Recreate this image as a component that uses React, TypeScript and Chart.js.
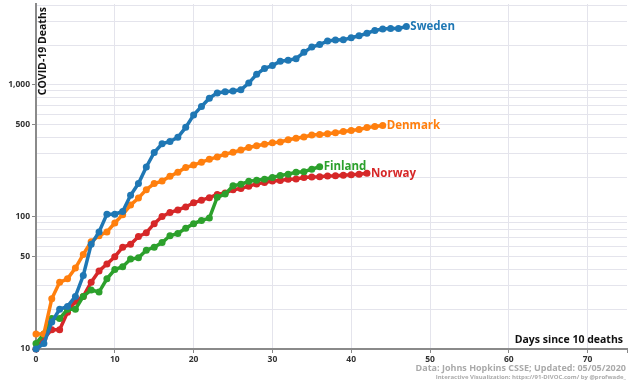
import React, { useEffect, useRef } from "react";
import { Chart, registerables } from "chart.js";

Chart.register(...registerables);

const days: number[] = Array.from({ length: 48 }, (_, i) => i);

const sweden = [10, 11, 16, 20, 21, 25, 36, 62, 77, 105, 105, 110, 146, 179, 239, 308, 358, 373, 401, 477, 591, 687, 793, 870, 887, 899, 919, 1033, 1203, 1333, 1400, 1511, 1540, 1580, 1765, 1937, 2021, 2152, 2192, 2194, 2274, 2355, 2462, 2586, 2653, 2669, 2679, 2769];
const denmark = [13, 13, 24, 32, 34, 41, 52, 65, 72, 77, 90, 104, 123, 139, 161, 179, 187, 203, 218, 237, 247, 260, 273, 285, 299, 309, 321, 336, 346, 355, 364, 370, 384, 394, 403, 418, 422, 427, 434, 443, 452, 460, 475, 484, 493];
const finland = [11, 13, 17, 17, 20, 20, 25, 28, 27, 34, 40, 42, 48, 49, 56, 59, 64, 72, 75, 82, 89, 94, 98, 141, 149, 172, 177, 186, 190, 193, 199, 206, 211, 218, 220, 230, 240];
const norway = [10, 12, 14, 14, 19, 23, 25, 32, 39, 44, 50, 59, 62, 71, 76, 89, 101, 108, 113, 119, 128, 134, 140, 148, 152, 161, 164, 171, 178, 182, 187, 189, 193, 194, 199, 201, 202, 204, 205, 207, 209, 211, 214];

const countries = ["Sweden", "Denmark", "Finland", "Norway"];
const colors = ["#1f77b4", "#ff7f0e", "#2ca02c", "#d62728"];
const seriesList = [sweden, denmark, finland, norway];

const yGridValues = [10, 20, 30, 40, 50, 60, 70, 80, 90, 100, 200, 300, 400, 500, 600, 700, 800, 900, 1000, 2000, 3000, 4000];
const yLabelValues = [10, 50, 100, 500, 1000];
const xTickStep = 10;
const xMax = 75;
const yMin = 10;
const yMax = 4100;

const xTitle = "Days since 10 deaths";
const yTitle = "COVID-19 Deaths";
const source = "Data: Johns Hopkins CSSE; Updated: 05/05/2020";
const credit = "Interactive Visualization: https://91-DIVOC.com/ by @profwade_";

const FONT = "'Open Sans', sans-serif";

const labelPlugin = {
  id: "endLabels",
  afterDatasetsDraw(chart: any) {
    const ctx = chart.ctx;
    ctx.save();
    chart.data.datasets.forEach((ds: any, i: number) => {
      const meta = chart.getDatasetMeta(i);
      const pt = meta.data[meta.data.length - 1];
      if (!pt) return;
      ctx.font = `bold 11.5px ${FONT}`;
      ctx.fillStyle = ds.borderColor;
      ctx.textAlign = "left";
      ctx.textBaseline = "middle";
      ctx.fillText(ds.label, pt.x + 4, pt.y);
    });
    ctx.restore();
  },
  afterDraw(chart: any) {
    const ctx = chart.ctx;
    const a = chart.chartArea;
    ctx.save();
    ctx.fillStyle = "#111";
    ctx.font = `bold 10.5px ${FONT}`;
    ctx.textAlign = "right";
    ctx.textBaseline = "alphabetic";
    ctx.fillText(xTitle, a.right - 4, a.bottom - 6);
    ctx.translate(a.left + 7, a.top + 3);
    ctx.rotate(-Math.PI / 2);
    ctx.textAlign = "right";
    ctx.textBaseline = "middle";
    ctx.fillText(yTitle, 0, 0);
    ctx.restore();
    ctx.save();
    ctx.fillStyle = "#aaaaaa";
    ctx.textAlign = "right";
    ctx.textBaseline = "middle";
    ctx.font = `bold 9px ${FONT}`;
    ctx.fillText(source, 626, 368);
    ctx.font = `bold 6px ${FONT}`;
    ctx.fillText(credit, 626, 377);
    ctx.restore();
  },
};

export default function App() {
  const ref = useRef<HTMLCanvasElement | null>(null);
  useEffect(() => {
    if (!ref.current) return;
    const chart = new Chart(ref.current, {
      type: "line",
      data: {
        datasets: seriesList.map((s, i) => ({
          label: countries[i],
          data: s.map((v, d) => ({ x: days[d], y: v })),
          borderColor: colors[i],
          backgroundColor: colors[i],
          borderWidth: 3.5,
          pointRadius: 3.5,
          pointBorderWidth: 0,
          tension: 0,
          clip: false as any,
        })),
      },
      options: {
        animation: false,
        responsive: true,
        maintainAspectRatio: false,
        layout: { padding: { top: 2, right: 13, left: 0, bottom: 0 } },
        plugins: { legend: { display: false }, tooltip: { enabled: false } },
        scales: {
          x: {
            type: "linear",
            min: 0,
            max: xMax,
            afterFit(scale: any) {
              scale.height = 31;
              scale.paddingLeft = 0;
              scale.paddingRight = 0;
            },
            ticks: {
              stepSize: xTickStep,
              color: "#333",
              font: { family: FONT, size: 8.5, weight: "bold" },
              padding: 1,
              maxRotation: 0,
              callback: (v: any) => (Number(v) % xTickStep === 0 ? String(v) : ""),
            },
            grid: {
              color: (c: any) => (c.tick && c.tick.value % xTickStep === 0 && c.tick.value !== 0 ? "#e4e4ec" : "rgba(0,0,0,0)"),
              tickColor: "#888",
              tickLength: 4,
              lineWidth: 1,
            },
            border: { display: true, color: "#8a8a8a", width: 2 },
          },
          y: {
            type: "logarithmic",
            min: yMin,
            max: yMax,
            afterFit(scale: any) {
              scale.width = 36;
              scale.paddingTop = 0;
              scale.paddingBottom = 0;
            },
            afterBuildTicks(scale: any) {
              scale.ticks = yGridValues.map((v) => ({ value: v }));
            },
            ticks: {
              autoSkip: false,
              color: "#333",
              font: { family: FONT, size: 8.5, weight: "bold" },
              padding: 2,
              callback: (v: any) => (yLabelValues.includes(Number(v)) ? Number(v).toLocaleString("en-US") : ""),
            },
            grid: {
              color: (c: any) => (c.tick && c.tick.value !== yMin ? "#e4e4ec" : "rgba(0,0,0,0)"),
              tickColor: (c: any) => (c.tick && yLabelValues.includes(c.tick.value) ? "#888" : "rgba(0,0,0,0)"),
              tickLength: 4,
              lineWidth: 1,
            },
            border: { display: true, color: "#8a8a8a", width: 2 },
          },
        },
      } as any,
      plugins: [labelPlugin],
    });
    return () => chart.destroy();
  }, []);
  return (
    <div style={{ position: "fixed", left: 0, top: 0, width: 640, height: 380, background: "#fff" }}>
      <canvas ref={ref} />
    </div>
  );
}
